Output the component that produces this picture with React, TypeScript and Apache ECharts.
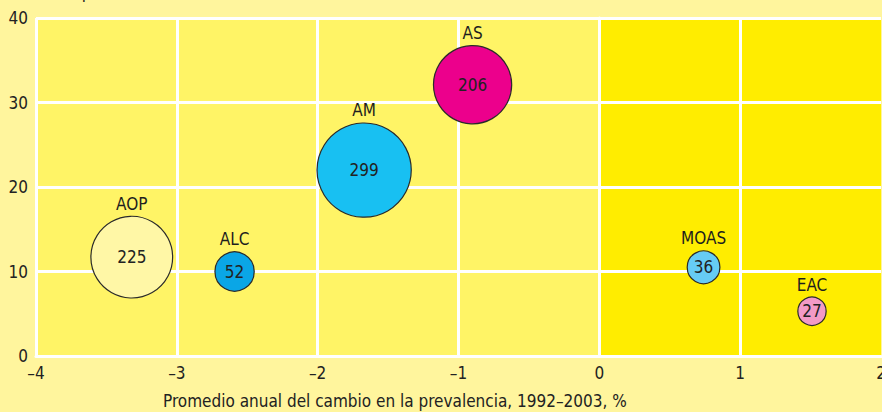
import React, { useEffect, useRef } from "react";
import * as echarts from "echarts";

const regions = ["AOP", "ALC", "AM", "AS", "MOAS", "EAC"];
const changeX = [-3.32, -2.59, -1.67, -0.9, 0.74, 1.51];
const prevalenceY = [11.7, 10.0, 22.0, 32.1, 10.5, 5.3];
const people = [225, 52, 299, 206, 36, 27];
const colors = ["#FFF7A6", "#0AA6E6", "#18C0F2", "#EC008C", "#66CCF5", "#F39AC6"];
const xTicks = [-4, -3, -2, -1, 0, 1, 2];
const yTicks = [0, 10, 20, 30, 40];

const FONT = "'DejaVu Sans Condensed', 'DejaVu Sans', sans-serif";

export default function App() {
  const ref = useRef<HTMLDivElement>(null);
  useEffect(() => {
    if (!ref.current) return;
    const chart = echarts.init(ref.current, undefined, { renderer: "svg" });
    const data = regions.map((n, i) => ({
      name: n,
      value: [changeX[i], prevalenceY[i], people[i]],
      itemStyle: { color: colors[i] },
    }));
    const sizeFn = (v: number[]) => Math.sqrt(v[2]) * 5.45;
    const gridLines = [
      ...xTicks.slice(0, -1).map((x) => ({ xAxis: x })),
      ...yTicks.slice(1).map((y) => ({ yAxis: y })),
    ];
    chart.setOption({
      animation: false,
      backgroundColor: "#FFF59D",
      textStyle: { fontFamily: FONT },
      grid: { left: 36, right: 1, top: 18, bottom: 56, outerBoundsMode: "none", containLabel: false },
      xAxis: {
        type: "value",
        min: -4,
        max: 2,
        interval: 1,
        axisLine: { show: true, lineStyle: { color: "#fff", width: 3 } },
        axisTick: { show: false },
        splitLine: { show: false },
        axisLabel: {
          color: "#222",
          fontSize: 17,
          fontFamily: FONT,
          margin: 8,
          formatter: (v: number) => (xTicks.includes(v) ? (v < 0 ? "\u2013" + Math.abs(v) : String(v)) : ""),
        },
      },
      yAxis: {
        type: "value",
        min: 0,
        max: 40,
        interval: 10,
        axisLine: { show: true, lineStyle: { color: "#fff", width: 3 } },
        axisTick: { show: false },
        splitLine: { show: false },
        axisLabel: {
          color: "#222",
          fontSize: 17,
          fontFamily: FONT,
          margin: 8,
          formatter: (v: number) => (yTicks.includes(v) ? String(v) : ""),
        },
      },
      graphic: [
        {
          type: "text",
          left: 163,
          top: 392,
          style: {
            text: "Promedio anual del cambio en la prevalencia, 1992\u20132003, %",
            fill: "#222",
            font: `17px ${FONT}`,
          },
        },
        {
          type: "text",
          x: 12,
          y: 0,
          style: {
            text: "(número por 1000 habitantes)",
            fill: "#222",
            font: `17px ${FONT}`,
            verticalAlign: "bottom",
          },
        },
      ],
      series: [
        {
          type: "scatter",
          z: 0,
          data: [],
          silent: true,
          markArea: {
            silent: true,
            z: 0,
            data: [
              [{ xAxis: -4, yAxis: 0, itemStyle: { color: "#FFF466" } }, { xAxis: 0, yAxis: 40 }],
              [{ xAxis: 0, yAxis: 0, itemStyle: { color: "#FFED00" } }, { xAxis: 2, yAxis: 40 }],
            ],
          },
        },
        {
          type: "scatter",
          z: 1,
          data: [],
          silent: true,
          markLine: {
            silent: true,
            z: 1,
            symbol: "none",
            label: { show: false },
            lineStyle: { color: "#fff", width: 3, type: "solid" },
            data: gridLines,
          },
        },
        {
          type: "scatter",
          z: 3,
          data,
          symbolSize: sizeFn,
          itemStyle: { borderColor: "#2a2a2a", borderWidth: 1.2, opacity: 1 },
          label: {
            show: true,
            position: "inside",
            formatter: (p: any) => String(p.value[2]),
            color: "#222",
            fontSize: 17,
            fontFamily: FONT,
          },
        },
        {
          type: "scatter",
          z: 4,
          data: data.map((d) => ({ ...d, itemStyle: { color: "rgba(0,0,0,0)" } })),
          symbolSize: sizeFn,
          silent: true,
          label: {
            show: true,
            position: "top",
            distance: 4,
            formatter: (p: any) => p.name,
            color: "#1e1e1e",
            opacity: 1,
            textBorderWidth: 0,
            fontSize: 17,
            fontFamily: FONT,
          },
        },
      ],
    });
    return () => chart.dispose();
  }, []);
  return <div ref={ref} style={{ width: 882, height: 412, position: "absolute", left: 0, top: 0 }} />;
}
